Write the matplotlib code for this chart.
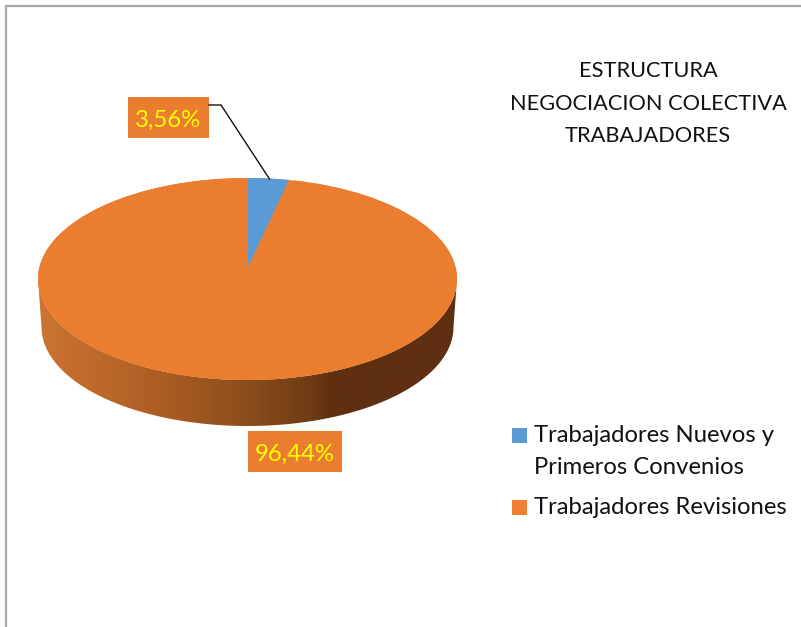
import numpy as np
import matplotlib
matplotlib.use("Agg")
import matplotlib.pyplot as plt
from matplotlib.patches import Ellipse, Polygon, Rectangle
from matplotlib.colors import LinearSegmentedColormap

categories = ["Trabajadores Nuevos y\nPrimeros Convenios", "Trabajadores Revisiones"]
shares = [3.56, 96.44]
value_labels = ["3,56%", "96,44%"]
title_lines = ["ESTRUCTURA", "NEGOCIACION COLECTIVA", "TRABAJADORES"]

BLUE, ORANGE = "#5B9BD5", "#EB7D31"
W, H = 801, 627
plt.rcParams["font.family"] = ["Lato", "DejaVu Sans"]

fig = plt.figure(figsize=(W / 100, H / 100), dpi=100)

# overlay in pixel units for frame, side wall and annotations
bg = fig.add_axes([0, 0, 1, 1])
bg.set_xlim(0, W)
bg.set_ylim(H, 0)
bg.axis("off")
bg.plot([6, 6, W], [H, 6, 6], color="#A9A9A9", lw=1.6, solid_joinstyle="miter")

# pie geometry in pixels
cx, cy, rx, ry = 247.5, 279, 209.5, 101
lcx, lcy, lrx, lry = 247.5, 327, 206, 99
t = np.linspace(0, np.pi, 300)
upper = np.c_[cx - rx * np.cos(t), cy + ry * np.sin(t)]
lower = np.c_[lcx + lrx * np.cos(t), lcy + lry * np.sin(t)]
wall = np.vstack([upper, lower])
cmap = LinearSegmentedColormap.from_list(
    "wall", [(0, "#CC7432"), (0.28, "#AE5E24"), (0.50, "#8A4D1C"), (0.66, "#6E3A15"), (0.70, "#5F2F11"), (1, "#5F2F11")])
im = bg.imshow(np.linspace(0, 1, 512)[None, :], cmap=cmap, aspect="auto",
               extent=[cx - rx, cx + rx, lcy + lry, cy - ry], zorder=2)
clip = Polygon(wall, closed=True, transform=bg.transData, fc="none", ec="none")
bg.add_patch(clip)
im.set_clip_path(clip)
bg.set_xlim(0, W)
bg.set_ylim(H, 0)

# top face
ax = fig.add_axes([(cx - rx) / W, 1 - (cy + ry) / H, 2 * rx / W, 2 * ry / H])
ax.patch.set_alpha(0)
ax.add_patch(Ellipse((0, 0), 2, 2, fc=ORANGE, ec="none"))
wedges, _ = ax.pie(shares, colors=[BLUE, ORANGE], startangle=90, counterclock=False, radius=1,
                   wedgeprops={"linewidth": 0})
ax.set_aspect("auto")
ax.set_xlim(-1, 1)
ax.set_ylim(-1, 1)
# blue slice: the perspective view moves its apex up and narrows it
wedges[0].set_visible(False)
apex_y = 0.109
sweep = np.radians(shares[0] / 100 * 360 * 0.89)
a = np.linspace(0, sweep, 30)
ax.add_patch(Polygon(np.vstack([[0, apex_y], np.c_[np.sin(a), np.cos(a)]]), closed=True, fc=BLUE, ec="none", zorder=5))

# leader line
over = fig.add_axes([0, 0, 1, 1])
over.set_xlim(0, W)
over.set_ylim(H, 0)
over.axis("off")
over.patch.set_alpha(0)
over.plot([209, 221, 269.5], [105, 105, 179], color="#111111", lw=1.0, solid_joinstyle="miter")

# data labels
for (x0, y0, x1, y1), lab in zip([(128, 97, 209, 138), (248, 431, 342, 472)], value_labels):
    over.add_patch(Rectangle((x0, y0), x1 - x0, y1 - y0, fc=ORANGE, ec="none"))
    over.text((x0 + x1) / 2, (y0 + y1) / 2 + 2.5, lab, color="#FFFF00", fontsize=17.3, ha="center", va="center")

# title
for y, line in zip([71, 104, 136], title_lines):
    over.text(648, y, line, color="#111111", fontsize=15.7, ha="center", va="center")

# legend
legend_colors = [BLUE, "#F07F33"]
legend_rows = [([435, 467]), ([507])]
for color, label, ys in zip(legend_colors, categories, legend_rows):
    over.add_patch(Rectangle((512, ys[0] - 7.5), 15, 15, fc=color, ec="none"))
    for y, line in zip(ys, label.split("\n")):
        over.text(534, y, line, color="#111111", fontsize=17.2, ha="left", va="center")

fig.savefig("out.png", dpi=100)
